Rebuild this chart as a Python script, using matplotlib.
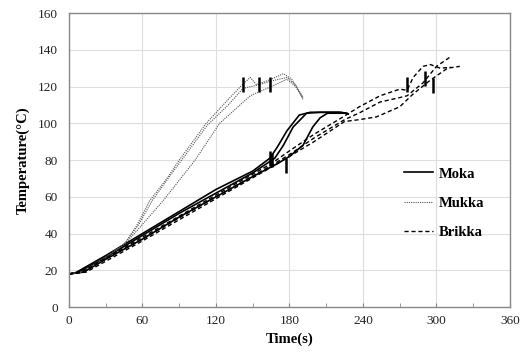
import matplotlib
matplotlib.use("Agg")
import matplotlib.pyplot as plt

plt.rcParams['font.family'] = ['Liberation Serif', 'DejaVu Serif']

# ---- data (time s, temperature °C) ----
moka1_t = [0, 5, 30, 60, 90, 120, 150, 164, 170, 178, 188, 197, 210, 222, 226]
moka1_T = [18, 18.5, 28, 40, 52, 64, 74, 81, 87, 96, 104.5, 106, 106, 106, 105.5]
moka2_t = [0, 8, 30, 60, 90, 120, 150, 168, 175, 183, 194, 205, 220, 227]
moka2_T = [18, 19, 27, 39, 51, 62, 73, 81, 88, 98, 105.5, 106, 106, 105.5]
moka3_t = [0, 12, 30, 60, 90, 120, 150, 170, 180, 191, 199, 205, 211, 225, 228]
moka3_T = [18, 19, 26, 37, 49, 60, 71, 78, 82, 88, 98, 103, 105.5, 105.5, 105]

mukka1_t = [0, 10, 30, 45, 55, 66, 80, 90, 112, 130, 140, 148, 153, 165, 175, 182, 191]
mukka1_T = [18, 19, 27, 34, 44, 58, 70, 80, 100, 113, 120, 125, 121, 124, 127, 124, 113]
mukka2_t = [0, 10, 30, 46, 57, 68, 82, 92, 113, 130, 142, 155, 165, 178, 185, 191]
mukka2_T = [18, 19, 27, 35, 45, 58, 71, 80, 99, 110, 119, 121, 123, 125, 121, 114]
mukka3_t = [0, 10, 30, 48, 60, 77, 90, 103, 123, 138, 148, 165, 178, 185, 191]
mukka3_T = [18, 19, 27, 36, 45, 58, 69, 80, 100, 109, 115, 120, 124, 120, 114]

brikka1_t = [0, 10, 60, 120, 165, 180, 200, 225, 237, 254, 270, 276, 281, 289, 295, 303, 312]
brikka1_T = [18, 19, 38, 61, 78, 85, 94, 104, 109, 115, 118.6, 118, 125, 131, 132, 130, 130.5]
brikka2_t = [0, 10, 60, 120, 165, 180, 200, 225, 238, 254, 270, 276, 289, 300, 311]
brikka2_T = [18, 19, 37, 60, 77, 83, 92, 102, 106, 111.6, 114, 115, 122, 131, 136]
brikka3_t = [0, 14, 60, 120, 165, 180, 200, 225, 237, 251, 270, 281, 295, 309, 319]
brikka3_T = [18, 19, 36, 59, 76, 82, 90, 101, 102, 103.5, 109, 116, 123.5, 130, 131]

# vertical event bars (time, temperature)
bar_t = [142, 155, 164, 164, 166, 177, 276, 291, 297]
bar_T = [121, 121, 121, 81, 80, 77, 121, 124.5, 120.5]

xticks = [0, 60, 120, 180, 240, 300, 360]
yticks = [0, 20, 40, 60, 80, 100, 120, 140, 160]

# ---- figure ----
fig = plt.figure(figsize=(5.25, 3.52), dpi=100)
ax = fig.add_axes([0.1314, 0.1278, 0.84, 0.835])

grid_c = '#dedede'
ax.set_axisbelow(True)
ax.grid(True, color=grid_c, lw=0.8)

for i, (t, T) in enumerate([(moka1_t, moka1_T), (moka2_t, moka2_T), (moka3_t, moka3_T)]):
    ax.plot(t, T, color='black', lw=1.2, ls='-', label='Moka' if i == 0 else None)
for i, (t, T) in enumerate([(mukka1_t, mukka1_T), (mukka2_t, mukka2_T), (mukka3_t, mukka3_T)]):
    ax.plot(t, T, color='#555555', lw=0.8, ls=(0, (1, 1)), label='Mukka' if i == 0 else None)
for i, (t, T) in enumerate([(brikka1_t, brikka1_T), (brikka2_t, brikka2_T), (brikka3_t, brikka3_T)]):
    ax.plot(t, T, color='black', lw=1.0, ls=(0, (3, 2)), label='Brikka' if i == 0 else None)

half = 4
ax.vlines(bar_t, [v - half for v in bar_T], [v + half for v in bar_T], color='black', lw=1.8)

ax.set_xlim(0, 360)
ax.set_ylim(0, 160)
ax.set_xticks(xticks)
ax.set_yticks(yticks)
ax.set_xticks(range(30, 360, 60), minor=True)
ax.tick_params(axis='x', which='both', direction='in', length=3, colors='#888888',
               labelcolor='#222222', labelsize=9.5, pad=6)
ax.tick_params(axis='y', which='both', length=0, labelcolor='#222222', labelsize=9.5, pad=8)
for s in ax.spines.values():
    s.set_color('#888888')
    s.set_linewidth(1.0)

ax.set_xlabel('Time(s)', fontsize=10.5, fontweight='bold', labelpad=4)
ax.set_ylabel('Temperature(°C)', fontsize=10.5, fontweight='bold', labelpad=6)

leg = ax.legend(loc='upper left', bbox_to_anchor=(0.73, 0.52), frameon=False,
                handlelength=2.0, labelspacing=1.1, handletextpad=0.4,
                prop={'weight': 'bold', 'size': 10.5})

fig.savefig('out.png', dpi=100)
